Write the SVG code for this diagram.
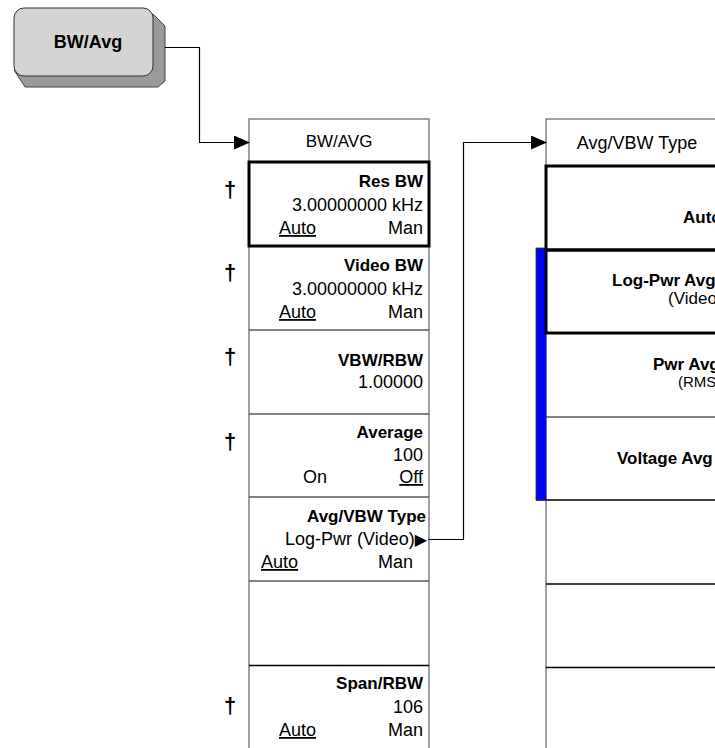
<svg xmlns="http://www.w3.org/2000/svg" width="715" height="748" viewBox="0 0 715 748">
<defs>
<marker id="arr" markerWidth="16" markerHeight="14" refX="15" refY="7" orient="auto" markerUnits="userSpaceOnUse"><path d="M0,0 L16,7 L0,14 Z" fill="#000"/></marker>
</defs>
<style>
.t{font-family:"Liberation Sans",Arial,sans-serif;font-size:18px;fill:#000}
.b{font-weight:bold;font-size:17px}
.e{text-anchor:end}
.m{text-anchor:middle}
.u{text-decoration:underline}
.box{fill:#fff;stroke:#6e6e6e;stroke-width:1.3}
.sep{stroke:#5a5a5a;stroke-width:1.3}
.sepk{stroke:#000;stroke-width:1.3}
.sel{fill:none;stroke:#000;stroke-width:3}
.con{fill:none;stroke:#000;stroke-width:1.2}
.dag{font-family:"Liberation Sans",Arial,sans-serif;font-size:22px;font-weight:bold;text-anchor:middle;fill:#000}
</style>
<rect x="0" y="0" width="715" height="748" fill="#fff"/>

<g id="key-bwavg">
<path d="M153,14 L165,26 L165,81 L158,87 L25,87 L14,70 Z" fill="#9a9a9a" stroke="#444" stroke-width="1"/>
<rect x="14" y="8" width="139" height="68" rx="10" fill="#d4d4d4" stroke="#333" stroke-width="1"/>
<text x="88" y="48" class="t b m" style="font-size:18px">BW/Avg</text>
</g>

<g id="menu-bwavg">
<rect x="249" y="119" width="180" height="640" class="box"/>
<line x1="249" y1="330" x2="429" y2="330" class="sep"/>
<line x1="249" y1="414" x2="429" y2="414" class="sep"/>
<line x1="249" y1="497" x2="429" y2="497" class="sep"/>
<line x1="249" y1="581" x2="429" y2="581" class="sep"/>
<line x1="249" y1="665.5" x2="429" y2="665.5" class="sepk"/>
<text x="339" y="147" class="t m" style="font-size:17px">BW/AVG</text>
<g id="sk-resbw">
<rect x="249" y="162" width="180" height="84" class="sel"/>
<text x="230" y="197" class="dag">†</text>
<text x="423" y="187" class="t b e">Res BW</text>
<text x="423" y="211" class="t e">3.00000000 kHz</text>
<text x="279" y="234" class="t u">Auto</text>
<text x="423" y="234" class="t e">Man</text>
</g>
<g id="sk-videobw">
<text x="230" y="280" class="dag">†</text>
<text x="423" y="271" class="t b e">Video BW</text>
<text x="423" y="295" class="t e">3.00000000 kHz</text>
<text x="279" y="318" class="t u">Auto</text>
<text x="423" y="318" class="t e">Man</text>
</g>
<g id="sk-vbwrbw">
<text x="230" y="364" class="dag">†</text>
<text x="423" y="366" class="t b e">VBW/RBW</text>
<text x="423" y="388" class="t e">1.00000</text>
</g>
<g id="sk-average">
<text x="230" y="449" class="dag">†</text>
<text x="423" y="438" class="t b e">Average</text>
<text x="423" y="461" class="t e">100</text>
<text x="303" y="483" class="t">On</text>
<text x="423" y="483" class="t e u">Off</text>
</g>
<g id="sk-avgvbwtype">
<text x="426" y="521.5" class="t b e">Avg/VBW Type</text>
<text x="427" y="545" class="t e">Log-Pwr (Video)<tspan style="font-family:'DejaVu Sans',sans-serif;font-size:16px">▶</tspan></text>
<text x="261" y="568" class="t u">Auto</text>
<text x="413" y="568" class="t e">Man</text>
</g>
<g id="sk-spanrbw">
<text x="230" y="713" class="dag">†</text>
<text x="423" y="689" class="t b e">Span/RBW</text>
<text x="423" y="713" class="t e">106</text>
<text x="279" y="736" class="t u">Auto</text>
<text x="423" y="736" class="t e">Man</text>
</g>
</g>

<g id="menu-avgvbwtype">
<rect x="546" y="119" width="182" height="640" class="box"/>
<line x1="546" y1="417" x2="728" y2="417" class="sep"/>
<line x1="536" y1="500" x2="728" y2="500" class="sepk"/>
<line x1="546" y1="584" x2="728" y2="584" class="sepk"/>
<line x1="546" y1="667.5" x2="728" y2="667.5" class="sepk"/>
<text x="637" y="149" class="t m">Avg/VBW Type</text>
<rect x="536" y="248" width="10" height="252" fill="#0000ff" stroke="#333" stroke-width="0.8"/>
<g id="sk-auto">
<rect x="546" y="166" width="182" height="84" class="sel"/>
<text x="683" y="223" class="t b">Auto</text>
</g>
<g id="sk-logpwr">
<rect x="546" y="250" width="182" height="83" class="sel"/>
<text x="612" y="286" class="t b">Log-Pwr Avg</text>
<text x="668" y="304" class="t" style="font-size:17px">(Video)</text>
</g>
<g id="sk-pwravg">
<text x="653" y="370" class="t b">Pwr Avg</text>
<text x="678" y="387" class="t" style="font-size:15px">(RMS)</text>
</g>
<g id="sk-voltage">
<text x="617" y="464" class="t b">Voltage Avg</text>
</g>
</g>

<g id="connectors">
<path class="con" d="M165,47.5 H199.5 V142.5 H249" marker-end="url(#arr)"/>
<path class="con" d="M428,539.5 H463.5 V142.5 H546" marker-end="url(#arr)"/>
</g>
</svg>
